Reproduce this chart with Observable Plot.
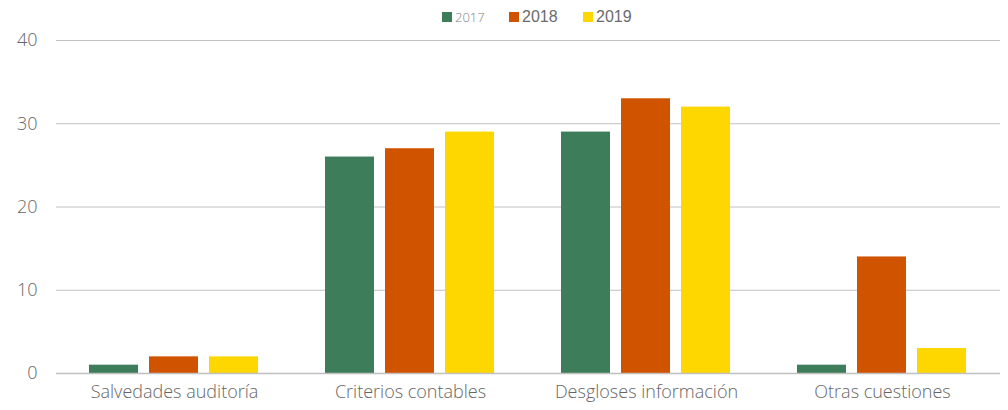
<!DOCTYPE html>
<html>
<head>
<meta charset="utf-8">
<script src="https://cdn.jsdelivr.net/npm/d3@7"></script>
<script src="https://cdn.jsdelivr.net/npm/@observablehq/plot@0.6"></script>
<style>
  html, body { margin: 0; padding: 0; background: #fff; }
  body { width: 1008px; height: 410px; overflow: hidden; font-family: "Open Sans", sans-serif; position: relative; }
  #legend { position: absolute; left: 0; top: 0; width: 1008px; height: 34px; z-index: 1; }
  #chart { position: absolute; left: 0; top: 10px; }
  .item { position: absolute; top: 0; height: 34px; display: flex; align-items: center; }
  .sw { width: 10px; height: 10px; margin-right: 3px; }
  .lab { color: #6b6b6b; font-family: "Liberation Sans", Arial, sans-serif; font-size: 16px; }
  .lab.small { font-family: "Open Sans", sans-serif; font-weight: 300; font-size: 13px; color: #808080; }
  svg text { font-weight: 300; }
</style>
</head>
<body>
<div id="chart"></div>
<div id="legend"></div>
<script>
const categories = ["Salvedades auditoría", "Criterios contables", "Desgloses información", "Otras cuestiones"];
const years = ["2017", "2018", "2019"];
const values2017 = [1, 26, 29, 1];
const values2018 = [2, 27, 33, 14];
const values2019 = [2, 29, 32, 3];
const colors = ["#3e7d5a", "#d05300", "#ffd700"];
const yTicks = [0, 10, 20, 30, 40];

const series = [values2017, values2018, values2019];
const data = [];
categories.forEach((c, i) => {
  years.forEach((y, j) => data.push({category: c, year: y, value: series[j][i]}));
});

// legend
const legend = document.getElementById("legend");
const legendX = [442, 509, 583];
years.forEach((y, j) => {
  const d = document.createElement("div");
  d.className = "item";
  d.style.left = legendX[j] + "px";
  d.innerHTML = `<div class="sw" style="background:${colors[j]}"></div><span class="lab${j === 0 ? " small" : ""}">${y}</span>`;
  legend.appendChild(d);
});

const chart = Plot.plot({
  width: 1008,
  height: 400,
  marginTop: 30,
  marginLeft: 55,
  marginRight: 7,
  marginBottom: 37,
  style: {fontFamily: "'Open Sans', sans-serif", fontSize: "18px", color: "#666666", background: "transparent"},
  fx: {domain: categories, padding: 0, label: null, axis: "bottom", tickSize: 0, tickPadding: 12},
  x: {domain: years, paddingInner: 0.18, paddingOuter: 0.53, axis: null},
  y: {domain: [0, 40], ticks: yTicks, tickSize: 0, tickPadding: 19, label: null},
  color: {domain: years, range: colors},
  marks: [
    Plot.ruleY(yTicks.filter(t => t > 0), {stroke: "#c0c0c0", strokeWidth: 1}),
    Plot.barY(data, {fx: "category", x: "year", y: "value", fill: "year"}),
    Plot.ruleY([0], {stroke: "#c0c0c0", strokeWidth: 1.5})
  ]
});
document.getElementById("chart").appendChild(chart);
</script>
</body>
</html>
